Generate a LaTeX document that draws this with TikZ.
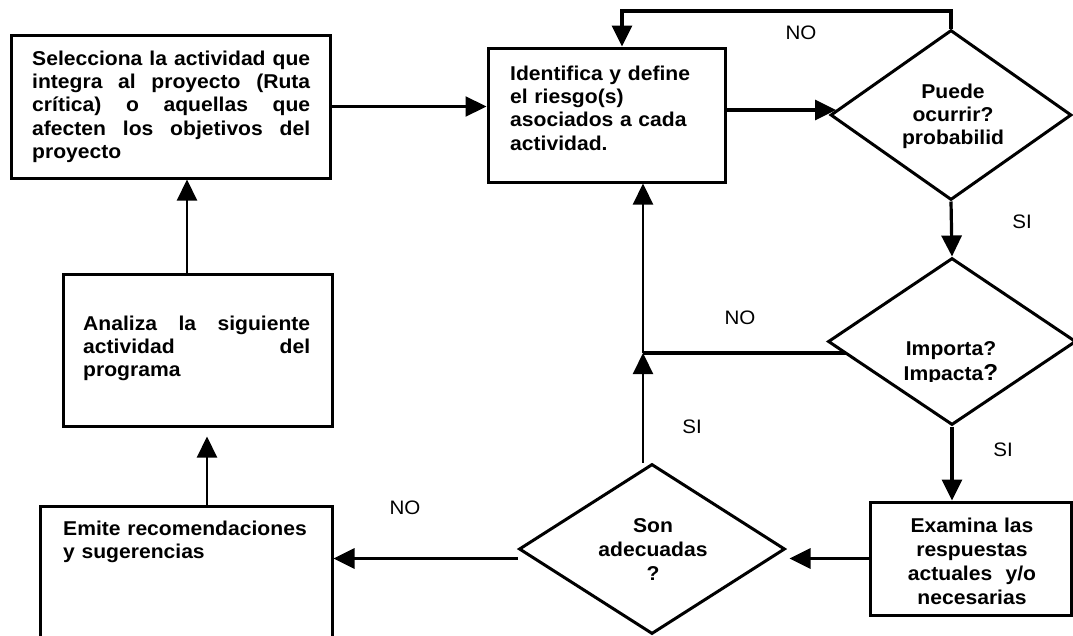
\documentclass[tikz,border=0pt]{standalone}
\usepackage{fontspec}
\setmainfont{Liberation Sans}[FakeStretch=1.055]
\usetikzlibrary{arrows.meta,shapes.geometric,calc}

\tikzset{
  box/.style={draw, line width=3pt, inner sep=0pt},
  dia/.style={draw, diamond, line width=3pt, inner sep=0pt},
  txt/.style={inner sep=0pt, anchor=base west,
    font=\bfseries\fontsize{20}{23.4}\selectfont},
  ctxt/.style={txt, anchor=base, text width=170pt, align=center},
  lbl/.style={inner sep=0pt, font=\fontsize{19.5}{22}\selectfont},
  thinarrow/.style={line width=2.2pt, -{Triangle[length=21pt,width=20pt]}},
  thickarrow/.style={line width=3.2pt, -{Triangle[length=21pt,width=20pt]}},
  thickline/.style={line width=3.2pt}
}

\begin{document}
\begin{tikzpicture}[x=1pt, y=-1pt]
  \useasboundingbox (0,0) rectangle (1073,635);
  \clip (0,0) rectangle (1073,635);
  \fill[white] (0,0) rectangle (1073,635);

  % process boxes
  \node[box, minimum width=319pt, minimum height=143pt] (A) at (170.5,106.5) {};
  \node[box, minimum width=237pt, minimum height=134pt] (B) at (606.5,115) {};
  \node[box, minimum width=269pt, minimum height=152pt] (C) at (197.5,350) {};
  \node[box, minimum width=292pt, minimum height=154pt] (D) at (186,583) {};
  \node[box, minimum width=201pt, minimum height=113pt] (E) at (970.5,558.5) {};

  % decisions
  \node[dia, minimum width=241pt, minimum height=170pt] (Q1) at (951,115) {};
  \node[dia, minimum width=248pt, minimum height=167pt] (Q2) at (952,341.5) {};
  \node[dia, minimum width=266pt, minimum height=170pt] (Q3) at (652,549) {};

  % box texts
  \node[txt, text width=278pt, align=justify] (At) at (32,65)
    {Selecciona la actividad que\linebreak integra al proyecto (Ruta\linebreak
     crítica) o aquellas que\linebreak afecten los objetivos del\linebreak proyecto};
  \node[txt, text width=210pt, align=left] (Bt) at (510,80)
    {Identifica y define\\ el riesgo(s)\\ asociados a cada\\ actividad.};
  \node[txt, text width=227pt, align=justify] (Ct) at (83,330)
    {Analiza la siguiente\linebreak actividad del\linebreak programa};
  \node[txt, text width=265pt, align=left] (Dt) at (63,535)
    {Emite recomendaciones\\ y sugerencias};
  \node[ctxt, font=\bfseries\fontsize{20}{24.3}\selectfont] (Et) at (972,532)
    {Examina las\\ respuestas\\ actuales~ y/o\\ necesarias};

  % decision texts
  \node[ctxt] (Q1t) at (953,98) {Puede\\ ocurrir?\\ probabilid};
  \begin{scope}
    \clip (840,320) rectangle (1073,381);
    \node[ctxt, font=\bfseries\fontsize{20}{25}\selectfont] (Q2t) at (951,355)
      {Importa?\\ Impacta{\fontsize{23}{25}\selectfont ?}};
  \end{scope}
  \node[ctxt, font=\bfseries\fontsize{20}{24}\selectfont] (Q3t) at (653,532)
    {Son\\ adecuadas\\ ?};

  % branch labels
  \node[lbl] (no1) at (801,33) {NO};
  \node[lbl] (no2) at (740,318) {NO};
  \node[lbl] (no3) at (405,508) {NO};
  \node[lbl] (si1) at (1022,222) {SI};
  \node[lbl] (si2) at (1003,450) {SI};
  \node[lbl] (si3) at (692,427) {SI};

  % connectors
  \coordinate (L) at (622,11);
  \coordinate (J) at (643,353);
  \draw[thinarrow] (A.east) -- (A.east -| B.west);
  \draw[thickarrow] (Q1.north) |- (L) -- (L |- B.north);
  \draw[thickarrow] ($(B.east)+(0,-5)$) -- ($(Q1.west)+(7,-5)$);
  \draw[thickarrow] (Q1.south) -- (Q2.north);
  \draw[thickline] ($(Q2.west)+(19,11.5)$) -- (J);
  \draw[thinarrow] (J |- Q3.north) -- (J);
  \draw[thinarrow] (J) -- (J |- B.south);
  \draw[thickarrow] (Q2.south) -- (Q2.south |- E.north);
  \draw[thickarrow] (E.west) -- ($(E.west -| Q3.east)+(3,0)$);
  \draw[thickarrow] (Q3.west |- E.west) -- (D.east |- E.west);
  \draw[thinarrow] ($(D.north)+(21,0)$) -- ($(C.south)+(9.5,9)$);
  \draw[thinarrow] ($(C.north)+(-10.5,0)$) -- ($(A.south)+(16.5,0)$);
\end{tikzpicture}
\end{document}
